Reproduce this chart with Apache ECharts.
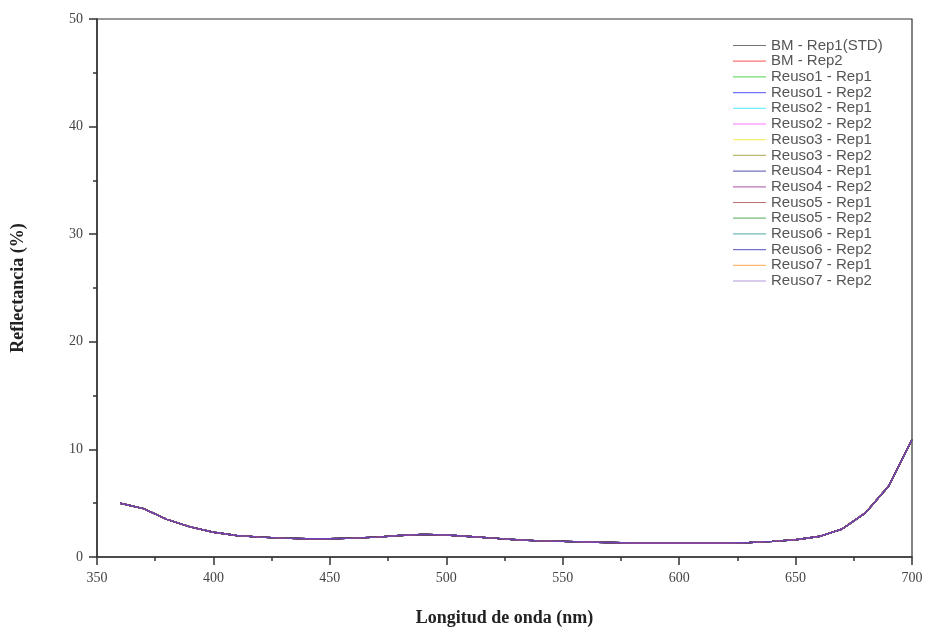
<!DOCTYPE html>
<html>
<head>
<meta charset="utf-8">
<script src="https://cdn.jsdelivr.net/npm/echarts@6/dist/echarts.min.js"></script>
<style>
  html, body { margin: 0; padding: 0; background: #fff; }
  #chart { width: 934px; height: 632px; }
</style>
</head>
<body>
<div id="chart"></div>
<script>
// longitud de onda (nm), cada 10 nm
const longitudOnda = [360, 370, 380, 390, 400, 410, 420, 430, 440, 450, 460, 470, 480, 490,
  500, 510, 520, 530, 540, 550, 560, 570, 580, 590, 600, 610, 620, 630, 640, 650,
  660, 670, 680, 690, 700];

// reflectancia (%) — all 16 curves sit on top of each other in the figure
const reflectancia = [5.0, 4.5, 3.5, 2.8, 2.3, 2.0, 1.85, 1.75, 1.7, 1.7, 1.75, 1.85, 2.0, 2.1,
  2.05, 1.9, 1.75, 1.6, 1.5, 1.45, 1.4, 1.35, 1.3, 1.3, 1.3, 1.3, 1.3, 1.35, 1.45, 1.6,
  1.9, 2.6, 4.1, 6.6, 10.9];

const nombres = ['BM - Rep1(STD)', 'BM - Rep2', 'Reuso1 - Rep1', 'Reuso1 - Rep2',
  'Reuso2 - Rep1', 'Reuso2 - Rep2', 'Reuso3 - Rep1', 'Reuso3 - Rep2',
  'Reuso4 - Rep1', 'Reuso4 - Rep2', 'Reuso5 - Rep1', 'Reuso5 - Rep2',
  'Reuso6 - Rep1', 'Reuso6 - Rep2', 'Reuso7 - Rep1', 'Reuso7 - Rep2'];

const colores = ['#000000', '#ff0000', '#00c000', '#0000ff', '#00e0ff', '#ff00ff',
  '#f0e000', '#808000', '#000080', '#800080', '#800000', '#008000',
  '#008080', '#0000a0', '#ff8000', '#7040c0'];

const chart = echarts.init(document.getElementById('chart'));

const puntos = longitudOnda.map((x, i) => [x, reflectancia[i]]);

const series = nombres.map((name, i) => ({
  name,
  type: 'line',
  data: puntos,
  showSymbol: false,
  symbol: 'none',
  smooth: false,
  lineStyle: {width: 1.4, color: colores[i]},
  itemStyle: {color: colores[i]},
  emphasis: {disabled: true},
  z: 2 + i
}));

const axisFont = {fontFamily: 'Liberation Serif', fontSize: 14, color: '#444'};
const nameFont = {fontFamily: 'Liberation Serif', fontSize: 18, fontWeight: 'bold', color: '#222'};

chart.setOption({
  animation: false,
  backgroundColor: '#fff',
  grid: {
    left: 97, right: 22, top: 19, bottom: 75,
    show: true, borderColor: '#333', borderWidth: 1.2, backgroundColor: 'transparent'
  },
  legend: {
    orient: 'vertical',
    left: 728, top: 33,
    icon: 'rect',
    itemWidth: 33, itemHeight: 1.2,
    itemGap: 0.7,
    itemStyle: {opacity: 0.55},
    textStyle: {fontFamily: 'Liberation Sans', fontSize: 15, lineHeight: 14, color: '#555'},
    data: nombres
  },
  xAxis: {
    type: 'value',
    min: 350, max: 700, interval: 50,
    name: 'Longitud de onda (nm)',
    nameLocation: 'middle', nameGap: 52,
    nameTextStyle: nameFont,
    axisLine: {show: true, lineStyle: {color: '#333', width: 1.5}},
    axisTick: {show: true, inside: false, length: 8, lineStyle: {color: '#333', width: 1.5}},
    minorTick: {show: true, splitNumber: 2, length: 4, lineStyle: {color: '#333', width: 1.5}},
    axisLabel: Object.assign({margin: 14}, axisFont),
    splitLine: {show: false}
  },
  yAxis: {
    type: 'value',
    min: 0, max: 50, interval: 10,
    name: 'Reflectancia (%)',
    nameLocation: 'middle', nameGap: 70,
    nameTextStyle: nameFont,
    axisLine: {show: true, lineStyle: {color: '#333', width: 1.5}},
    axisTick: {show: true, inside: false, length: 8, lineStyle: {color: '#333', width: 1.5}},
    minorTick: {show: true, splitNumber: 2, length: 4, lineStyle: {color: '#333', width: 1.5}},
    axisLabel: Object.assign({margin: 14}, axisFont),
    splitLine: {show: false}
  },
  series
});
</script>
</body>
</html>
